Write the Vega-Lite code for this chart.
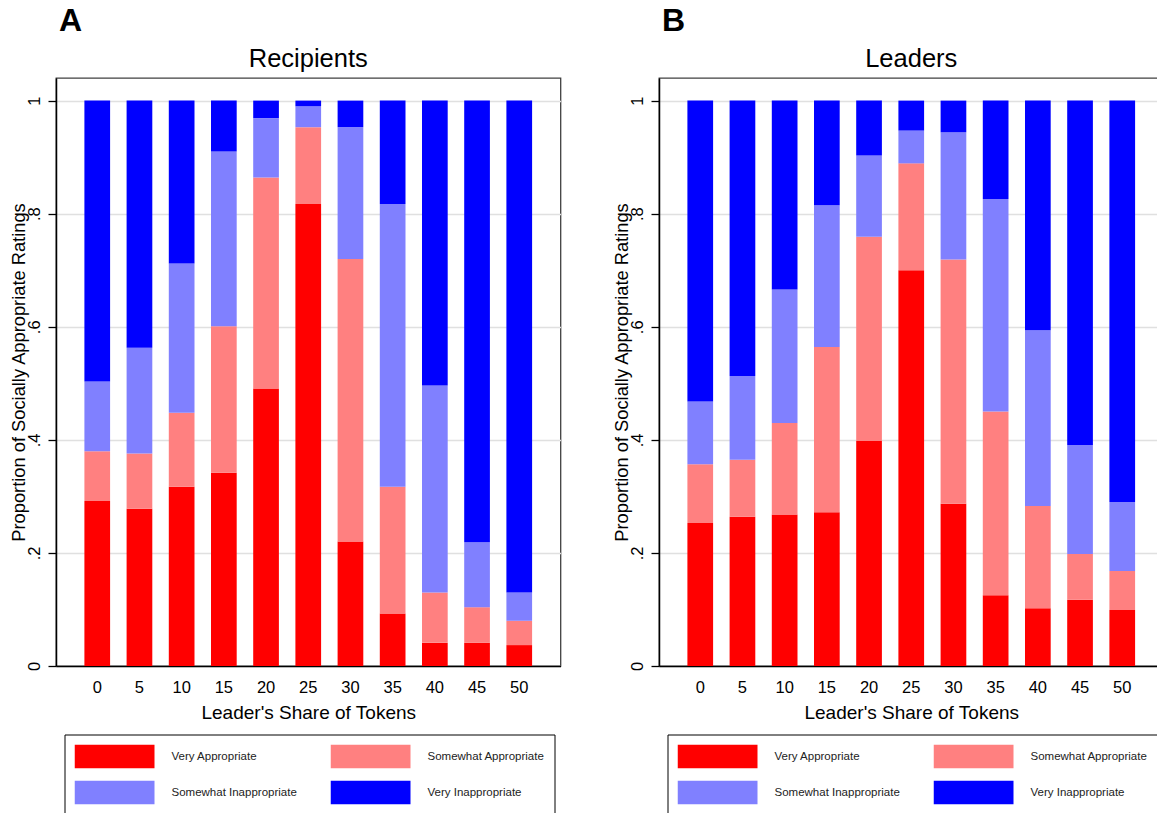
{
  "$schema": "https://vega.github.io/schema/vega-lite/v6.json",
  "background": "white",
  "padding": {"left": 8, "top": 4, "right": 0, "bottom": 0},
  "config": {
    "font": "Liberation Sans",
    "view": {"stroke": "#404040", "strokeWidth": 1.3},
    "title": {"font": "Liberation Sans", "color": "black"},
    "axis": {"labelFont": "Liberation Sans", "titleFont": "Liberation Sans", "labelColor": "black", "titleColor": "black", "titleFontWeight": "normal", "domainColor": "black", "domainWidth": 1.5, "tickColor": "black", "tickWidth": 1.3},
    "legend": {"labelFont": "Liberation Sans"}
  },
  "datasets": {
    "recipients": [
      {"share": 0, "rating": "Very Appropriate", "ord": 1, "value": 0.292},
      {"share": 0, "rating": "Somewhat Appropriate", "ord": 2, "value": 0.088},
      {"share": 0, "rating": "Somewhat Inappropriate", "ord": 3, "value": 0.123},
      {"share": 0, "rating": "Very Inappropriate", "ord": 4, "value": 0.497},
      {"share": 5, "rating": "Very Appropriate", "ord": 1, "value": 0.278},
      {"share": 5, "rating": "Somewhat Appropriate", "ord": 2, "value": 0.098},
      {"share": 5, "rating": "Somewhat Inappropriate", "ord": 3, "value": 0.187},
      {"share": 5, "rating": "Very Inappropriate", "ord": 4, "value": 0.437},
      {"share": 10, "rating": "Very Appropriate", "ord": 1, "value": 0.317},
      {"share": 10, "rating": "Somewhat Appropriate", "ord": 2, "value": 0.131},
      {"share": 10, "rating": "Somewhat Inappropriate", "ord": 3, "value": 0.264},
      {"share": 10, "rating": "Very Inappropriate", "ord": 4, "value": 0.288},
      {"share": 15, "rating": "Very Appropriate", "ord": 1, "value": 0.342},
      {"share": 15, "rating": "Somewhat Appropriate", "ord": 2, "value": 0.259},
      {"share": 15, "rating": "Somewhat Inappropriate", "ord": 3, "value": 0.309},
      {"share": 15, "rating": "Very Inappropriate", "ord": 4, "value": 0.090},
      {"share": 20, "rating": "Very Appropriate", "ord": 1, "value": 0.491},
      {"share": 20, "rating": "Somewhat Appropriate", "ord": 2, "value": 0.373},
      {"share": 20, "rating": "Somewhat Inappropriate", "ord": 3, "value": 0.105},
      {"share": 20, "rating": "Very Inappropriate", "ord": 4, "value": 0.031},
      {"share": 25, "rating": "Very Appropriate", "ord": 1, "value": 0.817},
      {"share": 25, "rating": "Somewhat Appropriate", "ord": 2, "value": 0.136},
      {"share": 25, "rating": "Somewhat Inappropriate", "ord": 3, "value": 0.037},
      {"share": 25, "rating": "Very Inappropriate", "ord": 4, "value": 0.010},
      {"share": 30, "rating": "Very Appropriate", "ord": 1, "value": 0.220},
      {"share": 30, "rating": "Somewhat Appropriate", "ord": 2, "value": 0.500},
      {"share": 30, "rating": "Somewhat Inappropriate", "ord": 3, "value": 0.233},
      {"share": 30, "rating": "Very Inappropriate", "ord": 4, "value": 0.047},
      {"share": 35, "rating": "Very Appropriate", "ord": 1, "value": 0.093},
      {"share": 35, "rating": "Somewhat Appropriate", "ord": 2, "value": 0.224},
      {"share": 35, "rating": "Somewhat Inappropriate", "ord": 3, "value": 0.500},
      {"share": 35, "rating": "Very Inappropriate", "ord": 4, "value": 0.183},
      {"share": 40, "rating": "Very Appropriate", "ord": 1, "value": 0.041},
      {"share": 40, "rating": "Somewhat Appropriate", "ord": 2, "value": 0.089},
      {"share": 40, "rating": "Somewhat Inappropriate", "ord": 3, "value": 0.366},
      {"share": 40, "rating": "Very Inappropriate", "ord": 4, "value": 0.504},
      {"share": 45, "rating": "Very Appropriate", "ord": 1, "value": 0.041},
      {"share": 45, "rating": "Somewhat Appropriate", "ord": 2, "value": 0.063},
      {"share": 45, "rating": "Somewhat Inappropriate", "ord": 3, "value": 0.115},
      {"share": 45, "rating": "Very Inappropriate", "ord": 4, "value": 0.781},
      {"share": 50, "rating": "Very Appropriate", "ord": 1, "value": 0.037},
      {"share": 50, "rating": "Somewhat Appropriate", "ord": 2, "value": 0.043},
      {"share": 50, "rating": "Somewhat Inappropriate", "ord": 3, "value": 0.050},
      {"share": 50, "rating": "Very Inappropriate", "ord": 4, "value": 0.870}
    ],
    "leaders": [
      {"share": 0, "rating": "Very Appropriate", "ord": 1, "value": 0.253},
      {"share": 0, "rating": "Somewhat Appropriate", "ord": 2, "value": 0.104},
      {"share": 0, "rating": "Somewhat Inappropriate", "ord": 3, "value": 0.111},
      {"share": 0, "rating": "Very Inappropriate", "ord": 4, "value": 0.532},
      {"share": 5, "rating": "Very Appropriate", "ord": 1, "value": 0.264},
      {"share": 5, "rating": "Somewhat Appropriate", "ord": 2, "value": 0.101},
      {"share": 5, "rating": "Somewhat Inappropriate", "ord": 3, "value": 0.148},
      {"share": 5, "rating": "Very Inappropriate", "ord": 4, "value": 0.487},
      {"share": 10, "rating": "Very Appropriate", "ord": 1, "value": 0.268},
      {"share": 10, "rating": "Somewhat Appropriate", "ord": 2, "value": 0.162},
      {"share": 10, "rating": "Somewhat Inappropriate", "ord": 3, "value": 0.236},
      {"share": 10, "rating": "Very Inappropriate", "ord": 4, "value": 0.334},
      {"share": 15, "rating": "Very Appropriate", "ord": 1, "value": 0.272},
      {"share": 15, "rating": "Somewhat Appropriate", "ord": 2, "value": 0.292},
      {"share": 15, "rating": "Somewhat Inappropriate", "ord": 3, "value": 0.251},
      {"share": 15, "rating": "Very Inappropriate", "ord": 4, "value": 0.185},
      {"share": 20, "rating": "Very Appropriate", "ord": 1, "value": 0.398},
      {"share": 20, "rating": "Somewhat Appropriate", "ord": 2, "value": 0.361},
      {"share": 20, "rating": "Somewhat Inappropriate", "ord": 3, "value": 0.144},
      {"share": 20, "rating": "Very Inappropriate", "ord": 4, "value": 0.097},
      {"share": 25, "rating": "Very Appropriate", "ord": 1, "value": 0.700},
      {"share": 25, "rating": "Somewhat Appropriate", "ord": 2, "value": 0.189},
      {"share": 25, "rating": "Somewhat Inappropriate", "ord": 3, "value": 0.058},
      {"share": 25, "rating": "Very Inappropriate", "ord": 4, "value": 0.053},
      {"share": 30, "rating": "Very Appropriate", "ord": 1, "value": 0.287},
      {"share": 30, "rating": "Somewhat Appropriate", "ord": 2, "value": 0.432},
      {"share": 30, "rating": "Somewhat Inappropriate", "ord": 3, "value": 0.225},
      {"share": 30, "rating": "Very Inappropriate", "ord": 4, "value": 0.056},
      {"share": 35, "rating": "Very Appropriate", "ord": 1, "value": 0.125},
      {"share": 35, "rating": "Somewhat Appropriate", "ord": 2, "value": 0.325},
      {"share": 35, "rating": "Somewhat Inappropriate", "ord": 3, "value": 0.376},
      {"share": 35, "rating": "Very Inappropriate", "ord": 4, "value": 0.174},
      {"share": 40, "rating": "Very Appropriate", "ord": 1, "value": 0.102},
      {"share": 40, "rating": "Somewhat Appropriate", "ord": 2, "value": 0.181},
      {"share": 40, "rating": "Somewhat Inappropriate", "ord": 3, "value": 0.311},
      {"share": 40, "rating": "Very Inappropriate", "ord": 4, "value": 0.406},
      {"share": 45, "rating": "Very Appropriate", "ord": 1, "value": 0.117},
      {"share": 45, "rating": "Somewhat Appropriate", "ord": 2, "value": 0.081},
      {"share": 45, "rating": "Somewhat Inappropriate", "ord": 3, "value": 0.193},
      {"share": 45, "rating": "Very Inappropriate", "ord": 4, "value": 0.609},
      {"share": 50, "rating": "Very Appropriate", "ord": 1, "value": 0.099},
      {"share": 50, "rating": "Somewhat Appropriate", "ord": 2, "value": 0.069},
      {"share": 50, "rating": "Somewhat Inappropriate", "ord": 3, "value": 0.122},
      {"share": 50, "rating": "Very Inappropriate", "ord": 4, "value": 0.710}
    ]
  },
  "hconcat": [
    {
      "title": {"text": "A", "anchor": "start", "frame": "group", "fontSize": 32, "fontWeight": "bold", "offset": 8, "dx": 3},
      "resolve": {"scale": {"color": "independent"}, "legend": {"color": "independent"}},
      "vconcat": [
        {
          "title": {"text": "Recipients", "fontSize": 25.5, "fontWeight": "normal", "offset": 6},
          "width": 504.5,
          "height": 588,
          "data": {"name": "recipients"},
          "mark": {"type": "bar"},
          "encoding": {
            "x": {"field": "share", "type": "ordinal", "scale": {"paddingInner": 0.391, "paddingOuter": 0.673},
                  "axis": {"title": "Leader's Share of Tokens", "labelAngle": 0, "labelFontSize": 16.5, "labelPadding": 13, "ticks": false, "tickSize": 0, "titleFontSize": 19, "titlePadding": 8, "grid": false}},
            "y": {"field": "value", "type": "quantitative", "stack": "zero", "scale": {"domain": [0, 1.04], "nice": false, "zero": true},
                  "axis": {"title": "Proportion of Socially Appropriate Ratings", "values": [0, 0.2, 0.4, 0.6, 0.8, 1], "labelExpr": "datum.value == 0 ? '0' : datum.value == 1 ? '1' : replace(format(datum.value, '.1f'), '0.', '.')", "labelAngle": 270, "labelAlign": "center", "labelBaseline": "bottom", "labelFontSize": 16.5, "labelPadding": 6, "labelFlush": false, "tickSize": 8, "titleFontSize": 18.3, "titlePadding": -2, "grid": true, "gridColor": "#e0e0e0", "gridWidth": 1.5}},
            "color": {"field": "rating", "type": "nominal",
                      "scale": {"domain": ["Very Appropriate", "Somewhat Appropriate", "Somewhat Inappropriate", "Very Inappropriate"], "range": ["#ff0000", "#ff8080", "#8080ff", "#0000ff"]},
                      "legend": {"orient": "none", "legendX": 8.5, "legendY": 656.5, "title": null, "direction": "horizontal", "columns": 2, "symbolType": "M-1,-0.3H1V0.3H-1Z", "symbolSize": 6400, "symbolStrokeWidth": 0, "symbolOpacity": 1, "clipHeight": 24, "rowPadding": 12, "columnPadding": 33, "labelOffset": 17, "labelFontSize": 11.5, "labelColor": "#222222", "padding": 10, "strokeColor": "black", "fillColor": "white"}},
            "order": {"field": "ord", "type": "quantitative"}
          }
        }
      ]
    },
    {
      "title": {"text": "B", "anchor": "start", "frame": "group", "fontSize": 32, "fontWeight": "bold", "offset": 8, "dx": 3},
      "resolve": {"scale": {"color": "independent"}, "legend": {"color": "independent"}},
      "vconcat": [
        {
          "title": {"text": "Leaders", "fontSize": 25.5, "fontWeight": "normal", "offset": 6},
          "width": 504.5,
          "height": 588,
          "data": {"name": "leaders"},
          "mark": {"type": "bar"},
          "encoding": {
            "x": {"field": "share", "type": "ordinal", "scale": {"paddingInner": 0.391, "paddingOuter": 0.673},
                  "axis": {"title": "Leader's Share of Tokens", "labelAngle": 0, "labelFontSize": 16.5, "labelPadding": 13, "ticks": false, "tickSize": 0, "titleFontSize": 19, "titlePadding": 8, "grid": false}},
            "y": {"field": "value", "type": "quantitative", "stack": "zero", "scale": {"domain": [0, 1.04], "nice": false, "zero": true},
                  "axis": {"title": "Proportion of Socially Appropriate Ratings", "values": [0, 0.2, 0.4, 0.6, 0.8, 1], "labelExpr": "datum.value == 0 ? '0' : datum.value == 1 ? '1' : replace(format(datum.value, '.1f'), '0.', '.')", "labelAngle": 270, "labelAlign": "center", "labelBaseline": "bottom", "labelFontSize": 16.5, "labelPadding": 6, "labelFlush": false, "tickSize": 8, "titleFontSize": 18.3, "titlePadding": -2, "grid": true, "gridColor": "#e0e0e0", "gridWidth": 1.5}},
            "color": {"field": "rating", "type": "nominal",
                      "scale": {"domain": ["Very Appropriate", "Somewhat Appropriate", "Somewhat Inappropriate", "Very Inappropriate"], "range": ["#ff0000", "#ff8080", "#8080ff", "#0000ff"]},
                      "legend": {"orient": "none", "legendX": 8.5, "legendY": 656.5, "title": null, "direction": "horizontal", "columns": 2, "symbolType": "M-1,-0.3H1V0.3H-1Z", "symbolSize": 6400, "symbolStrokeWidth": 0, "symbolOpacity": 1, "clipHeight": 24, "rowPadding": 12, "columnPadding": 33, "labelOffset": 17, "labelFontSize": 11.5, "labelColor": "#222222", "padding": 10, "strokeColor": "black", "fillColor": "white"}},
            "order": {"field": "ord", "type": "quantitative"}
          }
        }
      ]
    }
  ],
  "spacing": 49,
  "resolve": {"scale": {"color": "independent"}, "legend": {"color": "independent"}}
}
